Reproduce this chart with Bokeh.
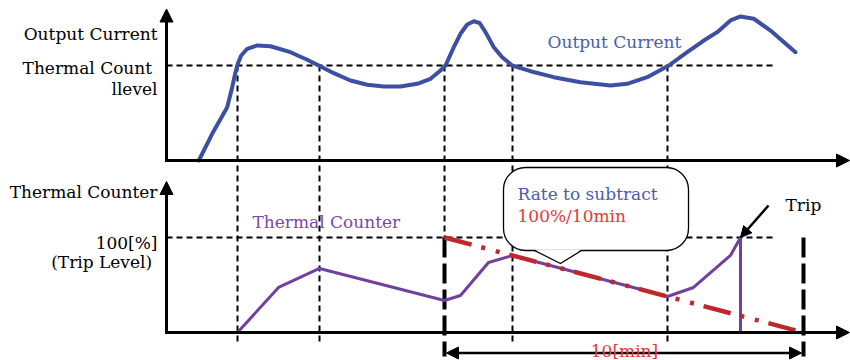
from bokeh.plotting import figure
from bokeh.models import Range1d, Label, Arrow, NormalHead, BoxAnnotation
from bokeh.embed import file_html
from bokeh.resources import INLINE

# ---------------- data (time in minutes, current relative to thermal level, counter in %) ----
time_current = [0.900, 1.273, 1.691, 1.830, 1.922, 1.986, 2.081, 2.248, 2.526, 2.897,
                 3.454, 3.919, 4.242, 4.660, 5.125, 5.591, 6.053, 6.518, 6.983, 7.354,
                 7.632, 7.772, 8.003, 8.189, 8.376, 8.560, 8.727, 8.886, 9.117, 9.351,
                 9.630, 10.139, 10.788, 11.532, 12.368, 12.833, 13.390, 13.992, 14.504, 14.967,
                 15.340, 15.710, 15.989, 16.359, 16.825, 17.521]
output_current = [0.000, 0.281, 0.561, 0.772, 0.929, 1.018, 1.105, 1.176, 1.211, 1.203,
                  1.140, 1.060, 1.000, 0.919, 0.842, 0.797, 0.779, 0.779, 0.807, 0.860,
                  0.947, 1.000, 1.193, 1.334, 1.432, 1.466, 1.445, 1.351, 1.193, 1.087,
                  1.000, 0.940, 0.877, 0.824, 0.789, 0.807, 0.877, 1.000, 1.140, 1.263,
                  1.351, 1.474, 1.516, 1.492, 1.368, 1.140]

crossing_times = [1.978, 4.262, 7.744, 9.638, 13.955]   # current crosses thermal level
time_counter = [1.978, 3.120, 4.262, 7.744, 8.189, 8.969, 9.638, 13.955, 14.680, 15.710, 15.989, 15.989]
thermal_counter = [0.0, 47.4, 67.4, 33.7, 38.9, 73.7, 81.1, 37.9, 47.4, 81.1, 100.0, 0.0]

thermal_level = 1.0
trip_level = 100.0
window_start = 7.744
window_minutes = 10.0
rate_time = [window_start, window_start + window_minutes]
rate_counter = [trip_level, 0.0]
level_line_end = 16.908

# ---------------- layout helpers (page pixel -> panel units) ----------------
def X(px):
    return (px - 166) / 35.9

def YT(py):
    return (160 - py) / 95.0

def YB(py):
    return (332 - py) / 0.95

W, H = 850, 360
FONT = "DejaVu Serif"
FS = "17px"
BLUE = "#3b4fa3"
PURPLE = "#7040a0"
RED = "#c0272d"

p = figure(width=W, height=H, output_backend="svg", toolbar_location=None,
           x_range=Range1d(X(0), X(W)), y_range=Range1d(YT(H), YT(0)),
           x_axis_type=None, y_axis_type=None, min_border=0,
           outline_line_color=None, background_fill_color="white", border_fill_color="white")
p.extra_y_ranges = {"cnt": Range1d(YB(H), YB(0))}

# threshold lines
p.segment(x0=[0], y0=[thermal_level], x1=[level_line_end], y1=[thermal_level],
          line_color="black", line_width=2, line_dash="6 4")
p.segment(x0=[0], y0=[trip_level], x1=[level_line_end], y1=[trip_level],
          line_color="black", line_width=2, line_dash="6 4", y_range_name="cnt")

# vertical dashed lines at crossings
thin_bottom = [YT(341) if t != window_start else YT(237) for t in crossing_times]
p.segment(x0=crossing_times, y0=[thermal_level] * len(crossing_times),
          x1=crossing_times, y1=thin_bottom,
          line_color="black", line_width=2, line_dash="6 4")
# thick dashed window limits
p.segment(x0=rate_time, y0=[trip_level, trip_level], x1=rate_time, y1=[YB(356), YB(356)],
          line_color="black", line_width=4, line_dash="20 6", y_range_name="cnt")

# curves
p.line(time_current, output_current, line_color=BLUE, line_width=4,
       line_join="round", line_cap="round")
p.line(time_counter, thermal_counter, line_color=PURPLE, line_width=3,
       line_join="round", y_range_name="cnt")
p.line(rate_time, rate_counter, line_color=RED, line_width=4.5,
       line_dash="28 10 4 11 4 10", y_range_name="cnt")

# axes drawn as arrows
def axis_arrow(x0, y0, x1, y1, rng):
    p.add_layout(Arrow(end=NormalHead(size=13, fill_color="black", line_color="black", line_width=1),
                       x_start=x0, y_start=y0, x_end=x1, y_end=y1,
                       line_width=3, line_color="black", y_range_name=rng))

axis_arrow(X(166), YT(161.5), X(166), YT(8.5), "default")
axis_arrow(X(164.5), YT(160), X(849), YT(160), "default")
axis_arrow(X(166), YB(333.5), X(166), YB(181), "cnt")
axis_arrow(X(164.5), YB(332), X(849), YB(332), "cnt")

# callout bubble
p.add_layout(BoxAnnotation(left=X(503), right=X(688), top=YB(167), bottom=YB(250),
                           fill_color="white", fill_alpha=1.0, line_color="black",
                           line_alpha=1.0, line_width=1.3, border_radius=22,
                           y_range_name="cnt"))
ptr = p.patch([X(534), X(560), X(581)], [YB(249.0), YB(263), YB(249.0)],
              fill_color="white", line_color=None, y_range_name="cnt")
ptr.level = "overlay"
ptr_l = p.line([X(534), X(560), X(581)], [YB(250), YB(263), YB(250)],
               line_color="black", line_width=1.3, y_range_name="cnt")
ptr_l.level = "overlay"

# trip arrow
p.add_layout(Arrow(end=NormalHead(size=11, fill_color="black", line_color="black", line_width=1),
                   x_start=X(768), y_start=YB(205), x_end=X(740), y_end=YB(237),
                   line_width=2.5, line_color="black", y_range_name="cnt"))
# 10 min bracket
p.add_layout(Arrow(start=NormalHead(size=12, fill_color="black", line_color="black", line_width=1),
                   end=NormalHead(size=12, fill_color="black", line_color="black", line_width=1),
                   x_start=X(446), y_start=YB(352.5), x_end=X(801), y_end=YB(352.5),
                   line_width=2.5, line_color="black", y_range_name="cnt"))

def label(x, y, text, color="black", align="left", rng="default"):
    p.add_layout(Label(x=x, y=y, text=text, text_color=color, text_align=align,
                       text_baseline="alphabetic", text_font=FONT, text_font_size=FS,
                       y_range_name=rng))

label(X(157), YT(33), "Output Current", align="right")
label(X(157), YT(67), "Thermal  Count", align="right")
label(X(157), YT(88), "llevel", align="right")
label(X(157), YB(191.5), "Thermal Counter", align="right", rng="cnt")
label(X(157), YB(242.5), "100[%]", align="right", rng="cnt")
label(X(157), YB(261), "(Trip  Level)", align="right", rng="cnt")
label(X(547), YT(41.5), "Output Current", color="#4a5bb4")
label(X(252), YB(221.5), "Thermal Counter", color="#7b47ad", rng="cnt")
label(X(517), YB(193), "Rate to subtract", color="#4a5bb4", rng="cnt")
label(X(517), YB(215), "100%/10min", color="#e8383a", rng="cnt")
label(X(785), YB(204), "Trip", rng="cnt")
label(X(624), YB(350), "10[min]", color="#e8383a", align="center", rng="cnt")

open("out.html", "w").write(file_html(p, INLINE))
